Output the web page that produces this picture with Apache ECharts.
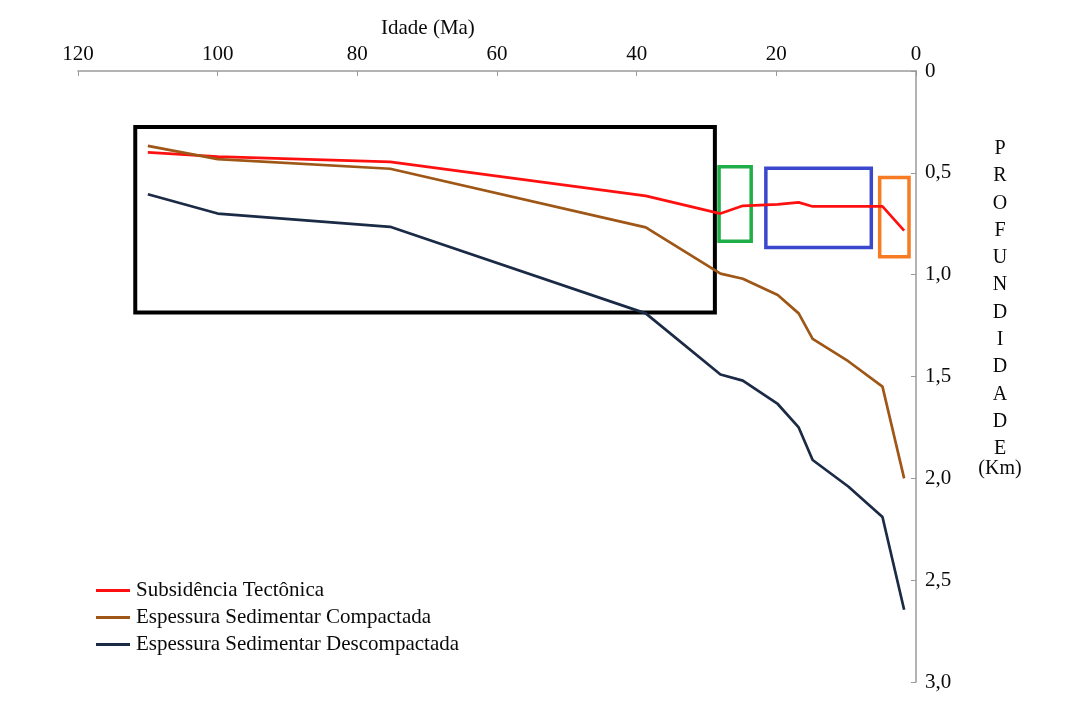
<!DOCTYPE html>
<html>
<head>
<meta charset="utf-8">
<script src="https://cdn.jsdelivr.net/npm/echarts@6/dist/echarts.min.js"></script>
<style>
  html, body { margin: 0; padding: 0; background: #fff; }
  #chart { width: 1071px; height: 704px; }
</style>
</head>
<body>
<div id="chart"></div>
<script>
// Idade (Ma) de cada ponto da curva
const ages = [110, 100, 75.3, 38.7, 28, 24.8, 19.8, 16.8, 14.8, 9.7, 4.8, 1.7];

// Profundidade (km)
const subsidenciaTectonica = [0.40, 0.42, 0.446, 0.613, 0.70, 0.662, 0.655, 0.645, 0.665, 0.665, 0.665, 0.784];
const espessuraCompactada = [0.368, 0.433, 0.48, 0.768, 0.995, 1.02, 1.10, 1.19, 1.315, 1.425, 1.55, 2.0];
const espessuraDescompactada = [0.605, 0.70, 0.765, 1.19, 1.49, 1.52, 1.635, 1.75, 1.91, 2.04, 2.19, 2.645];

const seriesNames = ['Subsidência Tectônica', 'Espessura Sedimentar Compactada', 'Espessura Sedimentar Descompactada'];

// Intervalos destacados: [idade inicial, idade final, prof. topo, prof. base]
const boxBlack = [111.8, 28.8, 0.275, 1.186];
const boxGreen = [28.2, 23.6, 0.47, 0.836];
const boxBlue = [21.5, 6.4, 0.477, 0.866];
const boxOrange = [5.2, 1.0, 0.523, 0.912];

const verticalWord = 'PROFUNDIDADE'.split('').join('\n');

function pairs(ys) {
  return ages.map((a, i) => [a, ys[i]]);
}
function box(b, color, width) {
  return [
    { xAxis: b[0], yAxis: b[2], itemStyle: { color: 'rgba(0,0,0,0)', borderColor: color, borderWidth: width } },
    { xAxis: b[1], yAxis: b[3] }
  ];
}

const serif = '"Liberation Serif", "DejaVu Serif", serif';
const chart = echarts.init(document.getElementById('chart'));

chart.setOption({
  backgroundColor: '#ffffff',
  animation: false,
  textStyle: { fontFamily: serif },
  grid: { left: 78, right: 155, top: 71, bottom: 22 },
  xAxis: {
    type: 'value',
    position: 'top',
    inverse: true,
    min: 0, max: 120, interval: 20,
    axisLine: { show: true, lineStyle: { color: '#9a9a9a', width: 1.5 } },
    axisTick: { show: true, inside: true, length: 5, lineStyle: { color: '#9a9a9a' } },
    axisLabel: { color: '#0a0a0a', fontSize: 21, fontFamily: serif, margin: 6 },
    splitLine: { show: false }
  },
  yAxis: {
    type: 'value',
    position: 'right',
    inverse: true,
    min: 0, max: 3, interval: 0.5,
    axisLine: { show: true, lineStyle: { color: '#9a9a9a', width: 1.5 } },
    axisTick: { show: true, inside: true, length: 5, lineStyle: { color: '#9a9a9a' } },
    axisLabel: {
      color: '#0a0a0a', fontSize: 21, fontFamily: serif, margin: 9,
      formatter: v => v === 0 ? '0' : v.toFixed(1).replace('.', ',')
    },
    splitLine: { show: false }
  },
  legend: {
    orient: 'vertical',
    left: 91, top: 575,
    itemWidth: 34, itemHeight: 3, itemGap: 6,
    icon: 'rect',
    textStyle: { fontFamily: serif, fontSize: 21, color: '#0a0a0a', padding: [0, 0, 0, 1] },
    data: seriesNames
  },
  graphic: [
    {
      type: 'text', left: 381, top: 18,
      style: { text: 'Idade (Ma)', font: '21px ' + serif, fill: '#0a0a0a' }
    },
    {
      type: 'text', x: 1000, y: 135,
      style: { text: verticalWord, font: '20px ' + serif, fill: '#0a0a0a', lineHeight: 27.3, align: 'center', verticalAlign: 'top' }
    },
    {
      type: 'text', x: 1000, y: 459,
      style: { text: '(Km)', font: '20px ' + serif, fill: '#0a0a0a', align: 'center', verticalAlign: 'top' }
    }
  ],
  series: [
    {
      name: seriesNames[0], type: 'line', data: pairs(subsidenciaTectonica),
      symbol: 'none', z: 3,
      lineStyle: { color: '#ff1010', width: 2.7 }, itemStyle: { color: '#ff1010' },
      markArea: {
        silent: true,
        z: 2,
        data: [
          box(boxBlack, '#000000', 4),
          box(boxGreen, '#1fae48', 3.5),
          box(boxBlue, '#3b47cc', 3.5),
          box(boxOrange, '#f67b22', 3.5)
        ]
      }
    },
    {
      name: seriesNames[1], type: 'line', data: pairs(espessuraCompactada),
      symbol: 'none',
      lineStyle: { color: '#9e5716', width: 2.7 }, itemStyle: { color: '#9e5716' }
    },
    {
      name: seriesNames[2], type: 'line', data: pairs(espessuraDescompactada),
      symbol: 'none',
      lineStyle: { color: '#1b2a45', width: 2.7 }, itemStyle: { color: '#1b2a45' }
    }
  ]
});
</script>
</body>
</html>
